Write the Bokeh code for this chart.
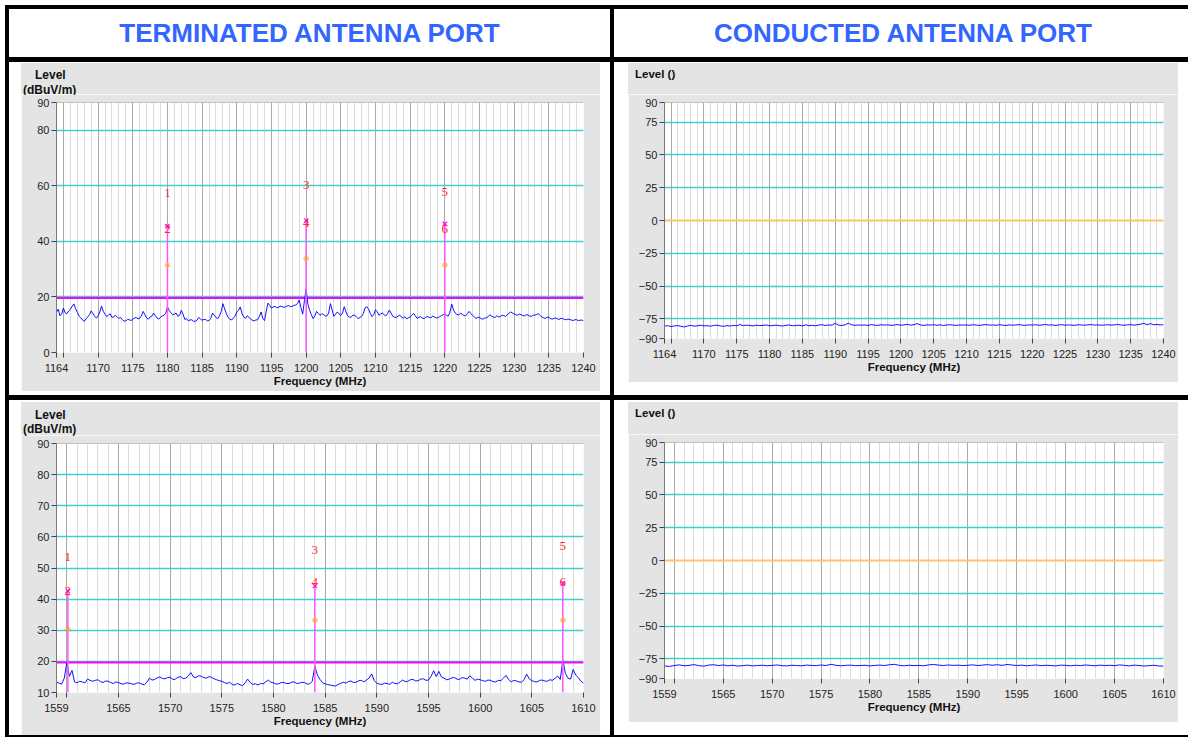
import numpy as np
from bokeh.plotting import figure
from bokeh.models import Range1d, FixedTicker, Grid, Span, Div, Spacer
from bokeh.layouts import row, column
from bokeh.core.properties import value
from bokeh.embed import file_html
from bokeh.resources import INLINE

# ------------------------------------------------------------------ data
TITLES = ["TERMINATED ANTENNA PORT", "CONDUCTED ANTENNA PORT"]
TERM_CAPTION = ["Level", "(dBuV/m)"]
COND_CAPTION = ["Level ()"]

band1_range = [1164, 1240]
band1_xticks = [1164, 1165, 1170, 1175, 1180, 1185, 1190, 1195, 1200, 1205,
                1210, 1215, 1220, 1225, 1230, 1235, 1240]
band2_range = [1559, 1610]
band2_xticks = [1559, 1560, 1565, 1570, 1575, 1580, 1585, 1590, 1595, 1600,
                1605, 1610]

term1_yrange = [0, 90]
term1_yticks = [0, 20, 40, 60, 80, 90]
term1_ygrid = [20, 40, 60, 80]
term2_yrange = [10, 90]
term2_yticks = [10, 20, 30, 40, 50, 60, 70, 80, 90]
term2_ygrid = [20, 30, 40, 50, 60, 70, 80]
cond_yrange = [-90, 90]
cond_yticks = [-90, -75, -50, -25, 0, 25, 50, 75, 90]
cond_ygrid = [-75, -50, -25, 25, 50, 75]
cond_zero = [0]

# terminated traces, sweep step 0.25 MHz (dBuV/m)
term1_level = [
    14.5, 15.6, 13.2, 13.9, 16.0, 14.3, 14.0, 14.9, 15.5, 16.6, 17.5, 15.8, 14.5, 13.1, 12.5, 11.7, 11.2, 12.1, 12.8, 13.6,
    15.0, 14.1, 13.0, 12.4, 13.2, 14.6, 16.7, 14.8, 13.8, 12.9, 13.5, 13.9, 12.6, 12.9, 13.4, 12.8, 12.3, 12.6, 11.8, 11.3,
    11.4, 11.9, 11.8, 11.5, 12.0, 12.4, 12.6, 12.1, 12.3, 13.2, 14.8, 13.6, 12.4, 12.0, 12.8, 13.1, 14.2, 13.3, 12.4, 12.0,
    12.7, 13.1, 13.4, 14.1, 16.4, 15.1, 14.3, 13.6, 13.8, 14.2, 13.0, 13.4, 15.2, 13.8, 11.9, 12.2, 11.4, 11.7, 11.8, 11.3,
    11.2, 11.6, 12.6, 12.1, 11.6, 11.9, 11.9, 11.4, 11.5, 12.3, 14.2, 13.4, 12.6, 12.2, 13.2, 14.8, 17.6, 15.7, 14.0, 12.6,
    12.0, 11.7, 12.4, 13.1, 14.6, 15.2, 16.4, 14.1, 12.8, 12.3, 13.2, 12.7, 12.0, 11.6, 11.4, 11.7, 11.8, 12.9, 14.6, 12.3,
    11.5, 14.9, 17.8, 16.9, 16.0, 16.4, 16.6, 16.1, 16.2, 16.7, 16.5, 16.3, 16.4, 16.8, 16.9, 16.5, 16.6, 17.0, 17.1, 17.6,
    18.9, 16.2, 13.8, 18.6, 22.9, 17.4, 15.2, 13.6, 12.2, 13.1, 14.8, 14.1, 13.4, 13.9, 13.8, 13.1, 13.2, 14.2, 17.6, 15.3,
    13.0, 13.8, 14.6, 13.9, 13.4, 14.2, 16.5, 14.6, 13.2, 12.7, 12.8, 13.4, 13.5, 12.8, 12.2, 12.6, 13.0, 14.0, 16.1, 16.5,
    15.6, 14.1, 12.9, 13.6, 15.4, 14.7, 13.4, 13.9, 14.2, 13.6, 13.2, 14.0, 15.3, 14.2, 13.0, 12.7, 12.6, 13.1, 13.4, 12.8,
    12.4, 12.9, 12.1, 12.5, 12.8, 13.4, 14.1, 13.2, 12.3, 12.6, 12.9, 12.4, 12.2, 12.7, 13.0, 12.6, 12.5, 13.1, 12.8, 12.4,
    12.6, 12.9, 13.2, 13.6, 14.0, 13.4, 13.1, 14.6, 17.4, 15.3, 14.2, 13.7, 13.5, 14.1, 13.8, 13.3, 13.2, 13.9, 14.8, 14.0,
    13.4, 12.8, 12.2, 12.7, 12.6, 12.2, 12.0, 12.4, 12.5, 12.9, 13.6, 13.1, 12.8, 12.6, 13.2, 12.8, 12.9, 13.4, 13.3, 13.0,
    13.6, 14.1, 14.6, 14.2, 13.9, 13.6, 13.4, 13.8, 13.6, 13.3, 13.2, 13.6, 13.5, 13.1, 13.0, 13.5, 13.4, 13.7, 14.0, 13.3,
    12.8, 12.5, 12.3, 12.7, 12.6, 12.2, 12.0, 12.3, 12.4, 12.1, 11.9, 12.3, 12.2, 11.9, 11.8, 12.0, 11.9, 11.7, 11.5, 11.8,
    11.8, 11.5, 11.6, 11.7, 11.4,
]
term2_level = [
    13.3, 13.0, 12.7, 14.6, 19.6, 15.2, 17.1, 13.4, 13.1, 13.6, 13.4, 13.1, 14.3, 13.9, 13.6, 13.9, 14.1, 13.5, 13.2, 13.7,
    13.6, 13.2, 12.9, 13.4, 13.2, 12.8, 12.7, 13.1, 13.0, 12.8, 12.6, 13.0, 13.1, 12.7, 12.5, 13.3, 14.6, 14.0, 14.2, 14.7,
    15.0, 14.5, 14.4, 14.8, 14.9, 14.2, 14.3, 14.9, 15.1, 14.5, 14.6, 15.3, 16.4, 15.0, 14.8, 15.4, 15.2, 14.8, 14.6, 15.1,
    14.9, 14.4, 14.1, 13.8, 13.6, 13.2, 12.9, 13.3, 12.6, 12.4, 12.9, 12.5, 12.2, 13.1, 14.3, 13.2, 12.6, 12.8, 12.4, 12.9,
    12.8, 13.4, 14.0, 13.3, 13.1, 12.7, 12.8, 13.2, 13.2, 12.9, 12.9, 13.3, 13.4, 12.9, 13.0, 13.3, 13.2, 12.7, 12.8, 13.6,
    18.4, 15.6, 14.2, 13.1, 12.8, 12.5, 12.4, 12.2, 12.1, 12.6, 12.9, 13.3, 13.0, 13.5, 13.7, 13.2, 13.3, 13.8, 13.9, 13.4,
    14.0, 14.6, 16.0, 13.8, 13.0, 12.7, 12.6, 13.0, 12.9, 12.6, 13.3, 12.9, 12.8, 13.4, 14.0, 13.5, 13.6, 14.1, 14.2, 13.7,
    13.8, 14.3, 14.4, 13.9, 14.0, 15.2, 17.0, 15.1, 16.8, 15.0, 14.6, 14.1, 14.3, 14.7, 14.8, 14.3, 14.2, 14.8, 14.6, 14.3,
    15.4, 14.6, 13.9, 14.3, 14.1, 13.8, 13.6, 14.0, 13.9, 13.5, 13.4, 13.9, 13.8, 14.6, 15.5, 14.2, 13.4, 13.9, 13.7, 13.4,
    13.3, 14.1, 15.9, 14.4, 13.8, 13.5, 13.4, 13.9, 14.0, 13.7, 13.6, 14.1, 13.9, 14.6, 15.3, 14.2, 20.4, 16.1, 14.6, 14.3,
    17.4, 15.6, 14.8, 13.6, 13.0,
]
# conducted traces, sweep step 0.5 MHz
cond1_level = [
    -80.6, -80.2, -80.9, -80.4, -80.1, -80.7, -81.2, -80.5, -80.0, -80.6,
    -80.3, -79.9, -80.4, -80.2, -80.6, -80.1, -79.8, -80.4, -80.7, -80.2,
    -80.5, -80.0, -80.3, -79.4, -80.2, -79.8, -80.1, -80.4, -79.9, -80.2,
    -80.0, -79.7, -80.3, -80.1, -79.8, -80.2, -80.5, -80.0, -79.7, -80.3,
    -80.1, -79.9, -80.4, -79.6, -80.2, -80.0, -80.3, -79.8, -79.5, -80.1,
    -79.7, -79.9, -78.4, -79.8, -80.1, -79.6, -78.3, -79.5, -80.0, -79.7,
    -79.9, -79.6, -80.1, -79.4, -79.8, -80.0, -79.5, -79.8, -79.6, -80.0,
    -79.7, -79.4, -79.9, -79.6, -79.2, -79.8, -79.5, -78.6, -79.7, -80.0,
    -79.6, -79.8, -79.5, -79.9, -79.6, -80.1, -79.7, -79.5, -79.8, -80.0,
    -79.6, -79.8, -79.7, -79.9, -79.5, -79.8, -80.0, -79.6, -79.4, -79.8,
    -79.7, -79.9, -79.5, -79.8, -80.1, -79.6, -79.9, -79.7, -79.4, -79.8,
    -80.0, -79.6, -79.8, -79.5, -79.9, -79.7, -79.3, -79.8, -79.6, -80.0,
    -79.7, -79.5, -79.9, -79.6, -79.8, -80.0, -79.5, -79.7, -79.9, -79.6,
    -79.4, -79.8, -79.6, -79.9, -79.7, -79.5, -79.8, -79.6, -79.3, -79.7,
    -79.9, -79.6, -79.4, -79.8, -79.5, -79.1, -78.4, -79.6, -78.6, -79.5,
    -79.3, -79.7, -79.4,
]
cond2_level = [
    -80.4, -80.8, -80.1, -79.6, -80.3, -80.0, -79.4, -80.2, -80.6, -79.8,
    -79.5, -80.1, -79.7, -80.3, -79.9, -80.5, -80.2, -79.8, -80.4, -80.1,
    -79.9, -80.3, -80.0, -79.7, -80.2, -80.4, -79.9, -80.1, -80.3, -79.8,
    -80.0, -80.2, -79.7, -80.1, -79.2, -79.9, -80.3, -80.0, -79.8, -80.2,
    -80.1, -79.9, -80.4, -80.0, -79.8, -80.1, -79.5, -79.2, -80.0, -80.3,
    -79.9, -80.2, -80.0, -80.3, -79.6, -79.3, -79.8, -80.1, -79.7, -80.0,
    -79.8, -80.2, -79.9, -79.6, -80.1, -79.8, -79.4, -79.9, -79.5, -80.0,
    -79.3, -79.7, -80.1, -79.8, -80.3, -80.0, -79.7, -80.2, -79.9, -80.1,
    -80.4, -79.8, -80.0, -80.3, -79.9, -80.2, -79.7, -80.0, -80.3, -79.8,
    -80.1, -79.9, -80.2, -79.6, -80.0, -80.4, -79.8, -80.1, -80.5, -80.2,
    -79.9, -80.4, -80.6,
]

limit_level = [19.6, 19.6]

term1_mk_freq = [1180.0, 1200.0, 1220.0]
term1_mk_line = [45.5, 47.5, 46.3]
term1_mk_pk_lbl = ["1", "3", "5"]
term1_mk_pk = [57.6, 60.2, 57.7]
term1_mk_av_lbl = ["2", "4", "6"]
term1_mk_av = [44.6, 46.8, 44.5]
term1_mk_x = [31.4, 33.8, 31.5]

term2_mk_freq = [1560.1, 1584.0, 1608.0]
term2_mk_line = [42.6, 44.2, 45.0]
term2_mk_pk_lbl = ["1", "3", "5"]
term2_mk_pk = [53.6, 55.8, 57.1]
term2_mk_av_lbl = ["2", "4", "6"]
term2_mk_av = [42.6, 45.4, 45.4]
term2_mk_x = [30.3, 33.2, 33.2]

# ------------------------------------------------------------------ style
GREY = "#e4e4e4"
CYAN = "#3fcfcf"
ORANGE = "#ffc266"
MAGENTA = "#ff00ff"
MARK_LINE = "#ff55ff"
TRACE = "#1010ff"
RED = "#ff2a2a"
FONT = "Liberation Sans"


def sweep(rng, levels):
    return np.linspace(rng[0], rng[1], len(levels))


def make_panel(width, height, borders, xr, xticks, yr, yticks, ygrid,
               freqs, levels, zero=None, limit=None, markers=None):
    left, right, top, bottom = borders
    p = figure(width=width, height=height, title=None,
               x_range=Range1d(xr[0], xr[1]), y_range=Range1d(yr[0], yr[1]),
               output_backend="svg", toolbar_location=None, tools="",
               min_border_left=left, min_border_right=right,
               min_border_top=top, min_border_bottom=bottom,
               border_fill_color=GREY, background_fill_color="white",
               outline_line_color=None, margin=0)

    # vertical grid: darker every 5 MHz, light every 1 MHz
    major5 = [t for t in xticks if t % 5 == 0 and xr[0] < t < xr[1]]
    minor1 = [f for f in range(int(xr[0]) + 1, int(xr[1]) + 1) if f not in major5]
    p.xgrid.ticker = FixedTicker(ticks=major5, minor_ticks=minor1)
    p.xgrid.grid_line_color = "#a9a9a9"
    p.xgrid.grid_line_width = 1
    p.xgrid.minor_grid_line_color = "#dcdcdc"
    p.xgrid.minor_grid_line_width = 1

    p.ygrid.ticker = FixedTicker(ticks=ygrid)
    p.ygrid.grid_line_color = CYAN
    p.ygrid.grid_line_width = 1.6
    if zero is not None:
        p.add_layout(Grid(dimension=1, ticker=FixedTicker(ticks=zero),
                          grid_line_color=ORANGE, grid_line_width=2))

    p.add_layout(Span(location=yr[1], dimension="width",
                      line_color="#8c8c8c", line_width=1))

    # axes
    p.xaxis.ticker = FixedTicker(ticks=xticks)
    p.xaxis.major_label_overrides = {xticks[1]: ""}
    p.yaxis.ticker = FixedTicker(ticks=yticks)
    for ax in (p.xaxis, p.yaxis):
        ax.major_label_text_font = FONT
        ax.major_label_text_font_size = "11px"
        ax.major_label_text_color = "#1e1e1e"
        ax.major_tick_out = 5
        ax.major_tick_in = 0
        ax.major_tick_line_color = "#444444"
        ax.minor_tick_line_color = None
    p.xaxis.axis_line_color = None
    p.xaxis.major_label_standoff = 6
    p.yaxis.axis_line_color = "#7a7a7a"
    p.yaxis.major_label_standoff = 2
    p.xaxis.axis_label = "Frequency (MHz)"
    p.xaxis.axis_label_text_font = FONT
    p.xaxis.axis_label_text_font_size = "11.5px"
    p.xaxis.axis_label_text_font_style = "bold"
    p.xaxis.axis_label_text_color = "#111111"
    p.xaxis.axis_label_standoff = 0

    if limit is not None:
        p.line(xr, limit, line_color=MAGENTA, line_width=2)

    p.line(freqs, levels, line_color=TRACE, line_width=1)

    if markers is not None:
        mf, mline, pk_lbl, pk, av_lbl, av, mx = markers
        p.segment(x0=mf, y0=[yr[0]] * len(mf), x1=mf, y1=mline,
                  line_color=MARK_LINE, line_width=1.5)
        p.scatter(mf, mline, marker="x", size=6, line_color=MAGENTA,
                  line_width=1.2)
        p.scatter(mf, mx, marker="asterisk", size=6, line_color="#ffa133",
                  line_width=1)
        for lbl, lv in ((pk_lbl, pk), (av_lbl, av)):
            p.text(x=mf, y=lv, text=lbl, text_align="center",
                   text_baseline="middle", text_color=RED,
                   text_font=value("Liberation Serif"), text_font_size="13px")
    return p


def caption(lines, w, h, spots, size):
    spans = "".join(
        '<span style="position:absolute;left:%dpx;top:%dpx;white-space:nowrap;">%s</span>'
        % (x, y, t) for t, (x, y) in zip(lines, spots))
    html = ('<div style="position:relative;width:%dpx;height:%dpx;'
            'background:%s;font-family:\'Liberation Sans\',Arial,sans-serif;'
            'font-weight:bold;font-size:%s;line-height:14px;color:#111111;">%s</div>'
            % (w, h, GREY, size, spans))
    return Div(text=html, width=w, height=h, margin=0,
               styles={"background-color": GREY})


# frames: top-left 56..583 x 102..352, top-right 664..1163 x 102..338,
#         bottom-left 56..583 x 443..692, bottom-right 664..1163 x 442..678
p_tl = make_panel(579, 297, (35, 17, 8, 39), band1_range, band1_xticks,
                  term1_yrange, term1_yticks, term1_ygrid,
                  sweep(band1_range, term1_level), term1_level,
                  limit=limit_level,
                  markers=(term1_mk_freq, term1_mk_line, term1_mk_pk_lbl,
                           term1_mk_pk, term1_mk_av_lbl, term1_mk_av,
                           term1_mk_x))
p_tr = make_panel(550, 288, (36, 15, 8, 44), band1_range, band1_xticks,
                  cond_yrange, cond_yticks, cond_ygrid,
                  sweep(band1_range, cond1_level), cond1_level,
                  zero=cond_zero)
p_bl = make_panel(579, 300, (35, 17, 8, 43), band2_range, band2_xticks,
                  term2_yrange, term2_yticks, term2_ygrid,
                  sweep(band2_range, term2_level), term2_level,
                  limit=limit_level,
                  markers=(term2_mk_freq, term2_mk_line, term2_mk_pk_lbl,
                           term2_mk_pk, term2_mk_av_lbl, term2_mk_av,
                           term2_mk_x))
p_br = make_panel(550, 288, (36, 15, 8, 44), band2_range, band2_xticks,
                  cond_yrange, cond_yticks, cond_ygrid,
                  sweep(band2_range, cond2_level), cond2_level,
                  zero=cond_zero)

cap_tl = caption(TERM_CAPTION, 579, 31, [(14, 5), (2, 20)], "12px")
cap_tr = caption(COND_CAPTION, 550, 31, [(7, 4)], "11.5px")
cap_bl = caption(TERM_CAPTION, 579, 33, [(14, 6), (2, 20)], "12px")
cap_br = caption(COND_CAPTION, 550, 32, [(7, 4)], "11.5px")

# ------------------------------------------------------------------ layout


def black(w, h):
    return Div(text="", width=w, height=h, margin=0,
               styles={"background-color": "#000000"})


def gap(w, h):
    return Spacer(width=w, height=h, margin=0)


def title_div(text, w, h, pad_left=0):
    html = ('<div style="box-sizing:border-box;width:%dpx;height:%dpx;'
            'padding-left:%dpx;font-family:\'Liberation Sans\',Arial,sans-serif;'
            'font-weight:bold;font-size:26px;color:#3366ff;text-align:center;'
            'line-height:%dpx;white-space:nowrap;">%s</div>'
            % (w, h, pad_left, h, text))
    return Div(text=html, width=w, height=h, margin=0)


LINE_W = 1183          # black rules from x=5 to x=1188
TITLE_H = 48
ROW1_H = 333
ROW2_H = 335


def hrule(h):
    return row(gap(5, h), black(LINE_W, h), spacing=0, margin=0)


def cell(w, top_gap, cap, fig, bottom_gap):
    kids = [gap(w, top_gap), cap, fig]
    if bottom_gap:
        kids.append(gap(w, bottom_gap))
    return column(*kids, spacing=0, margin=0)


title_row = row(gap(5, TITLE_H), black(4, TITLE_H),
                title_div(TITLES[0], 601, TITLE_H),
                black(4, TITLE_H), title_div(TITLES[1], 574, TITLE_H, 4),
                spacing=0, margin=0)

row1 = row(gap(5, ROW1_H), black(4, ROW1_H), gap(12, ROW1_H),
           cell(579, 1, cap_tl, p_tl, 4),
           gap(10, ROW1_H), black(4, ROW1_H), gap(14, ROW1_H),
           cell(550, 1, cap_tr, p_tr, 13),
           gap(10, ROW1_H), spacing=0, margin=0)

row2 = row(gap(5, ROW2_H), black(4, ROW2_H), gap(12, ROW2_H),
           cell(579, 2, cap_bl, p_bl, 0),
           gap(10, ROW2_H), black(4, ROW2_H), gap(14, ROW2_H),
           cell(550, 2, cap_br, p_br, 13),
           gap(10, ROW2_H), spacing=0, margin=0)

root = column(gap(1188, 5), hrule(4), title_row, hrule(5), row1, hrule(5),
              row2, hrule(2), spacing=0, margin=0)

open("out.html", "w").write(file_html(root, INLINE, title="Antenna port spectra"))
